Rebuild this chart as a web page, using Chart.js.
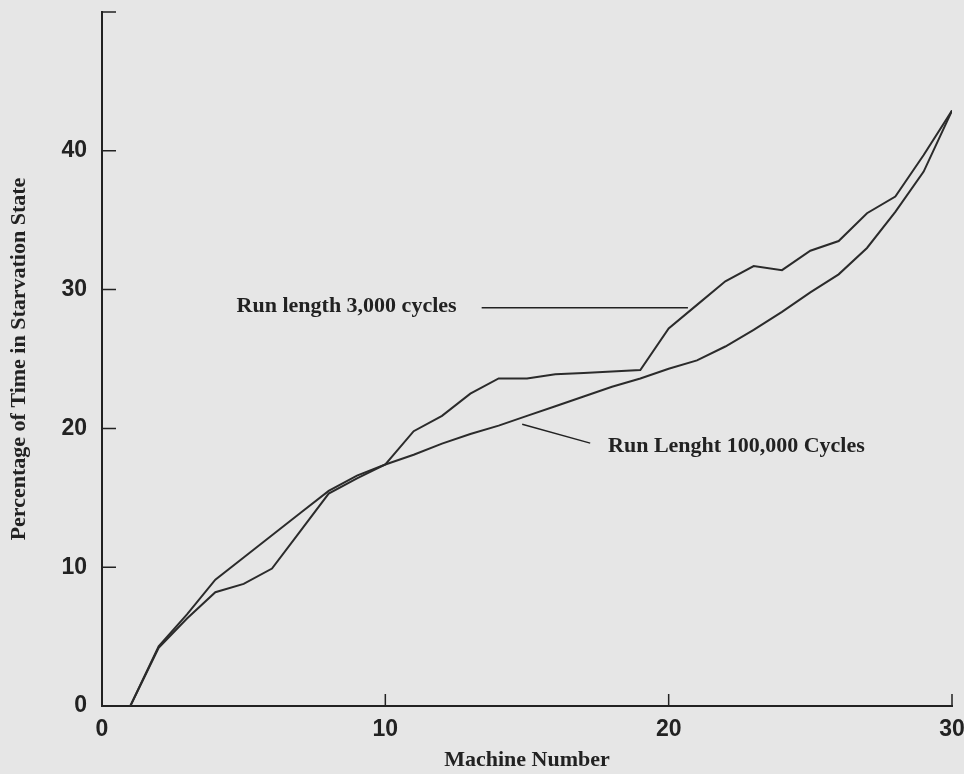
<!DOCTYPE html>
<html>
<head>
<meta charset="utf-8">
<script src="https://cdn.jsdelivr.net/npm/chart.js@4"></script>
<style>
  html, body { margin: 0; padding: 0; background: #e6e6e6; }
  #wrap { width: 964px; height: 774px; }
</style>
</head>
<body>
<div id="wrap"><canvas id="starveChart" width="964" height="774"></canvas></div>
<script>
const machines = [1, 2, 3, 4, 5, 6, 7, 8, 9, 10, 11, 12, 13, 14, 15, 16, 17, 18, 19, 20, 21, 22, 23, 24, 25, 26, 27, 28, 29, 30];
const run3000 = [0, 4.2, 6.3, 8.2, 8.8, 9.9, 12.6, 15.3, 16.4, 17.4, 19.8, 20.9, 22.5, 23.6, 23.6, 23.9, 24.0, 24.1, 24.2, 27.2, 28.9, 30.6, 31.7, 31.4, 32.8, 33.5, 35.5, 36.7, 39.7, 42.9];
const run100000 = [0, 4.3, 6.6, 9.1, 10.7, 12.3, 13.9, 15.5, 16.6, 17.4, 18.1, 18.9, 19.6, 20.2, 20.9, 21.6, 22.3, 23.0, 23.6, 24.3, 24.9, 25.9, 27.1, 28.4, 29.8, 31.1, 33.0, 35.6, 38.5, 42.9];
const xTicks = [10, 20, 30];
const yTicks = [10, 20, 30, 40, 50];

const ink = "#222";
const serif = "'Liberation Serif', 'Times New Roman', serif";
const sans = "'Liberation Sans', Arial, sans-serif";

// labels with pointer lines, placed in data units
const notes = [
  { text: "Run length 3,000 cycles", at: [4.75, 28.8], line: [[13.4, 28.7], [20.68, 28.7]] },
  { text: "Run Lenght 100,000 Cycles", at: [17.86, 18.7], line: [[14.83, 20.3], [17.23, 18.94]] }
];

const toPts = ys => machines.map((m, i) => ({ x: m, y: ys[i] }));

// tick marks pointing into the plot + the labels
const extras = {
  id: "extras",
  afterDraw(chart) {
    const { ctx, scales: { x, y } } = chart;
    ctx.save();
    ctx.strokeStyle = ink;
    ctx.lineWidth = 1.5;
    ctx.beginPath();
    yTicks.forEach(v => {
      const py = y.getPixelForValue(v);
      ctx.moveTo(x.left, py);
      ctx.lineTo(x.left + 14, py);
    });
    xTicks.forEach(v => {
      const px = x.getPixelForValue(v);
      ctx.moveTo(px, y.bottom);
      ctx.lineTo(px, y.bottom - 12);
    });
    ctx.stroke();

    ctx.font = "bold 22px " + serif;
    ctx.fillStyle = ink;
    ctx.textBaseline = "middle";
    notes.forEach(n => {
      ctx.fillText(n.text, x.getPixelForValue(n.at[0]), y.getPixelForValue(n.at[1]));
      ctx.beginPath();
      ctx.moveTo(x.getPixelForValue(n.line[0][0]), y.getPixelForValue(n.line[0][1]));
      ctx.lineTo(x.getPixelForValue(n.line[1][0]), y.getPixelForValue(n.line[1][1]));
      ctx.stroke();
    });
    ctx.restore();
  }
};

new Chart(document.getElementById("starveChart").getContext("2d"), {
  type: "line",
  data: {
    datasets: [
      { label: "Run length 3,000 cycles", data: toPts(run3000) },
      { label: "Run Lenght 100,000 Cycles", data: toPts(run100000) }
    ]
  },
  options: {
    responsive: false,
    animation: false,
    layout: { padding: { top: 12, right: 12, left: 0, bottom: 0 } },
    elements: {
      line: { borderColor: "#2b2b2b", borderWidth: 2, tension: 0 },
      point: { radius: 0 }
    },
    plugins: { legend: { display: false }, tooltip: { enabled: false } },
    scales: {
      x: {
        type: "linear",
        min: 0, max: 30,
        grid: { display: false, drawTicks: false },
        border: { display: true, color: ink, width: 2 },
        ticks: { stepSize: 10, padding: 10, color: ink, font: { family: sans, size: 23, weight: "bold" }, maxRotation: 0 },
        title: { display: true, text: "Machine Number", color: ink, font: { family: serif, size: 22, weight: "bold" }, padding: { top: 0, bottom: 0 } },
        afterFit: s => { s.height = 68; s.paddingLeft = 0; s.paddingRight = 0; }
      },
      y: {
        min: 0, max: 50,
        grid: { display: false, drawTicks: false },
        border: { display: true, color: ink, width: 2 },
        ticks: { stepSize: 10, padding: 15, color: ink, font: { family: sans, size: 23, weight: "bold" }, callback: v => (v === 50 ? "" : v) },
        title: { display: true, text: "Percentage of Time in Starvation State", color: ink, font: { family: serif, size: 22, weight: "bold" }, padding: { top: 6, bottom: 0 } },
        afterFit: s => { s.width = 102; s.paddingTop = 0; s.paddingBottom = 0; }
      }
    }
  },
  plugins: [extras]
});
</script>
</body>
</html>
